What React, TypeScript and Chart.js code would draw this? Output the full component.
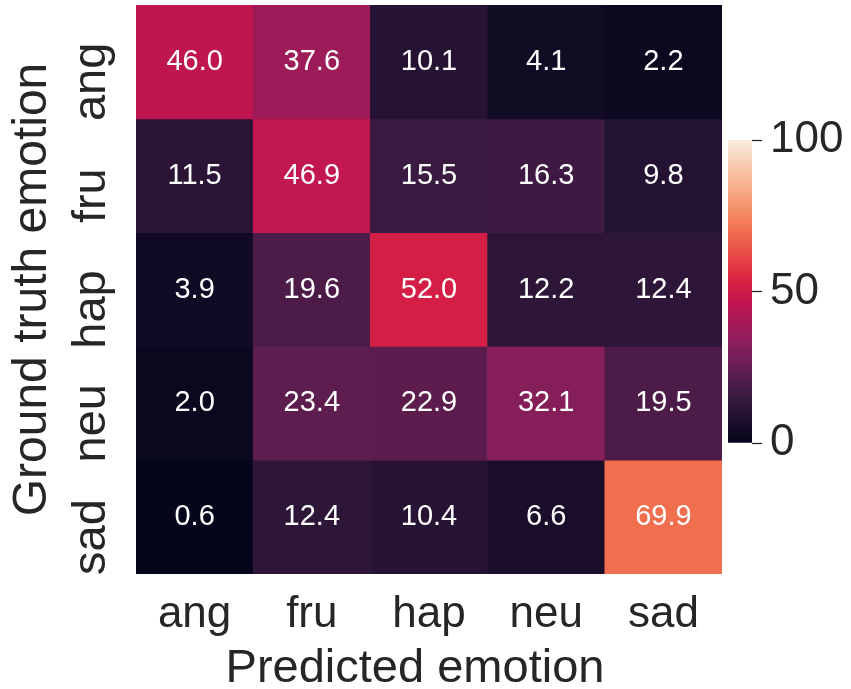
import React, { useEffect, useRef } from 'react';
import { Chart, registerables } from 'chart.js';

Chart.register(...registerables);

// Confusion matrix (percent of each ground-truth class)
const PREDICTED_LABELS = ['ang', 'fru', 'hap', 'neu', 'sad'];
const TRUTH_LABELS = ['ang', 'fru', 'hap', 'neu', 'sad'];
const ANG_ROW = [46.0, 37.6, 10.1, 4.1, 2.2];
const FRU_ROW = [11.5, 46.9, 15.5, 16.3, 9.8];
const HAP_ROW = [3.9, 19.6, 52.0, 12.2, 12.4];
const NEU_ROW = [2.0, 23.4, 22.9, 32.1, 19.5];
const SAD_ROW = [0.6, 12.4, 10.4, 6.6, 69.9];
const ROWS = [ANG_ROW, FRU_ROW, HAP_ROW, NEU_ROW, SAD_ROW];
const COLORBAR_TICKS = [0, 50, 100];
const V_MIN = 0;
const V_MAX = 100;

const X_TITLE = 'Predicted emotion';
const Y_TITLE = 'Ground truth emotion';

const FONT_FAMILY = '"Liberation Sans", Arial, Helvetica, sans-serif';
const TEXT_COLOR = '#262626';

// "rocket"-style sequential colormap anchors
const ROCKET_STOPS: [number, number[]][] = [
  [0.0, [3, 5, 26]],
  [0.143, [53, 25, 62]],
  [0.286, [118, 31, 89]],
  [0.36, [152, 28, 91]],
  [0.429, [178, 23, 86]],
  [0.46, [192, 22, 80]],
  [0.52, [212, 30, 70]],
  [0.571, [225, 51, 66]],
  [0.714, [243, 118, 81]],
  [0.857, [246, 180, 143]],
  [1.0, [250, 235, 221]],
];

function rocket(t: number): string {
  const v = Math.max(0, Math.min(1, t));
  for (let i = 1; i < ROCKET_STOPS.length; i++) {
    const [t1, c1] = ROCKET_STOPS[i];
    const [t0, c0] = ROCKET_STOPS[i - 1];
    if (v <= t1) {
      const f = (v - t0) / (t1 - t0);
      const c = c0.map((a, k) => Math.round(a + (c1[k] - a) * f));
      return `rgb(${c[0]}, ${c[1]}, ${c[2]})`;
    }
  }
  const last = ROCKET_STOPS[ROCKET_STOPS.length - 1][1];
  return `rgb(${last[0]}, ${last[1]}, ${last[2]})`;
}

const norm = (v: number) => (v - V_MIN) / (V_MAX - V_MIN);

// Writes each cell's value in the middle of its rectangle
const cellAnnotations = {
  id: 'cellAnnotations',
  afterDatasetsDraw(chart: any) {
    const { ctx } = chart;
    ctx.save();
    ctx.font = `29px ${FONT_FAMILY}`;
    ctx.fillStyle = '#ffffff';
    ctx.textAlign = 'center';
    ctx.textBaseline = 'middle';
    ROWS.forEach((row, i) => {
      const meta = chart.getDatasetMeta(i);
      row.forEach((v, j) => {
        const el = meta.data[j];
        if (!el) return;
        const { x, y, base } = el.getProps(['x', 'y', 'base'], true);
        ctx.fillText(v.toFixed(1), x, (y + base) / 2);
      });
    });
    ctx.restore();
  },
};

// Rotated row labels for the ground-truth axis, plus the x-axis title
const axisText = {
  id: 'axisText',
  afterDraw(chart: any) {
    const { ctx } = chart;
    const yScale = chart.scales.y;
    const xScale = chart.scales.x;
    ctx.save();
    ctx.font = `47px ${FONT_FAMILY}`;
    ctx.fillStyle = TEXT_COLOR;
    ctx.textAlign = 'center';
    ctx.textBaseline = 'alphabetic';
    TRUTH_LABELS.forEach((label, i) => {
      const cy = yScale.getPixelForValue(i + 0.5) + 20;
      ctx.save();
      ctx.translate(yScale.right - 31, cy);
      ctx.rotate(-Math.PI / 2);
      ctx.fillText(label, 0, 0);
      ctx.restore();
    });

    ctx.font = `47px ${FONT_FAMILY}`;
    ctx.fillText(X_TITLE, (xScale.left + xScale.right) / 2 - 14, xScale.bottom - 7);
    ctx.restore();
  },
};

function Heatmap() {
  const ref = useRef<HTMLCanvasElement>(null);
  useEffect(() => {
    const chart = new Chart(ref.current as HTMLCanvasElement, {
      type: 'bar',
      data: {
        labels: PREDICTED_LABELS,
        datasets: ROWS.map((row, i) => ({
          label: TRUTH_LABELS[i],
          data: row.map(() => 1),
          backgroundColor: row.map((v) => rocket(norm(v))),
          borderWidth: 0,
          barPercentage: 1,
          categoryPercentage: 1,
        })),
      },
      options: {
        responsive: false,
        animation: false,
        events: [],
        layout: { padding: { left: 0, right: 129, top: 5, bottom: 0 } },
        plugins: {
          legend: { display: false },
          tooltip: { enabled: false },
        },
        scales: {
          x: {
            type: 'category',
            stacked: true,
            grid: { display: false, drawTicks: false },
            border: { display: false },
            ticks: {
              color: TEXT_COLOR,
              font: { family: FONT_FAMILY, size: 44 },
              padding: 14,
              maxRotation: 0,
              minRotation: 0,
            },
            title: { display: false },
            afterFit: (scale: any) => {
              scale.height = 115;
            },
          },
          y: {
            type: 'linear',
            stacked: true,
            reverse: true,
            min: 0,
            max: TRUTH_LABELS.length,
            grid: { display: false, drawTicks: false },
            border: { display: false },
            ticks: { display: false },
            title: {
              display: true,
              text: Y_TITLE,
              color: TEXT_COLOR,
              font: { family: FONT_FAMILY, size: 48, lineHeight: 1 },
              padding: { top: 9, bottom: 0 },
            },
            afterFit: (scale: any) => {
              scale.width = 136;
            },
          },
        },
      },
      plugins: [cellAnnotations, axisText],
    } as any);
    return () => chart.destroy();
  }, []);
  return (
    <canvas
      ref={ref}
      width={851}
      height={689}
      style={{ position: 'absolute', left: 0, top: 0, width: 851, height: 689 }}
    />
  );
}

function ColorBar() {
  const ref = useRef<HTMLCanvasElement>(null);
  useEffect(() => {
    const chart = new Chart(ref.current as HTMLCanvasElement, {
      type: 'bar',
      data: {
        labels: [''],
        datasets: [
          {
            data: [[V_MIN, V_MAX]],
            backgroundColor: (c: any) => {
              const area = c.chart.chartArea;
              if (!area) return rocket(0.5);
              const g = c.chart.ctx.createLinearGradient(0, area.bottom, 0, area.top);
              for (let k = 0; k <= 50; k++) {
                g.addColorStop(k / 50, rocket(k / 50));
              }
              return g;
            },
            borderWidth: 0,
            barPercentage: 1,
            categoryPercentage: 1,
          },
        ],
      },
      options: {
        responsive: false,
        animation: false,
        events: [],
        layout: { padding: { left: 28, right: 0, top: 40, bottom: 57 } },
        plugins: {
          legend: { display: false },
          tooltip: { enabled: false },
        },
        scales: {
          x: { display: false },
          y: {
            position: 'right',
            min: V_MIN,
            max: V_MAX,
            afterBuildTicks: (axis: any) => {
              axis.ticks = COLORBAR_TICKS.map((v) => ({ value: v }));
            },
            grid: {
              drawOnChartArea: false,
              drawTicks: true,
              tickLength: 10,
              tickWidth: 1.3,
              tickColor: TEXT_COLOR,
            },
            border: { display: false },
            ticks: {
              color: TEXT_COLOR,
              font: { family: FONT_FAMILY, size: 44 },
              padding: 8,
            },
            afterFit: (scale: any) => {
              scale.width = 99;
            },
          },
        },
      },
    } as any);
    return () => chart.destroy();
  }, []);
  return (
    <canvas
      ref={ref}
      width={151}
      height={400}
      style={{ position: 'absolute', left: 700, top: 100, width: 151, height: 400 }}
    />
  );
}

export default function App() {
  return (
    <div
      style={{
        position: 'absolute',
        left: 0,
        top: 0,
        width: 851,
        height: 689,
        background: '#ffffff',
      }}
    >
      <Heatmap />
      <ColorBar />
    </div>
  );
}
